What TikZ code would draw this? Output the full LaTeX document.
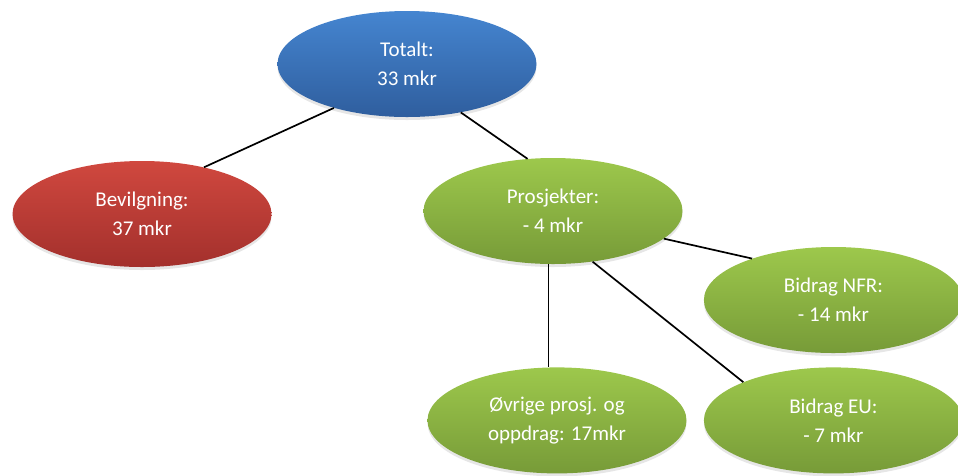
\documentclass[tikz,border=0pt]{standalone}
\usepackage{fontspec}
\setmainfont{Carlito}
\usepackage{tikz}
\usetikzlibrary{shapes.geometric,positioning,shadows}
\definecolor{BlueTop}{HTML}{4585D0}
\definecolor{BlueBot}{HTML}{2F5E9E}
\definecolor{RedTop}{HTML}{D0483F}
\definecolor{RedBot}{HTML}{A3302C}
\definecolor{GreenTop}{HTML}{9DC84C}
\definecolor{GreenBot}{HTML}{779B38}

\begin{document}
\begin{tikzpicture}[x=1pt,y=-1pt,
  oval/.style={ellipse,minimum width=259pt,minimum height=106pt,inner sep=0pt,
               align=center,text=white,font=\fontsize{21}{29}\selectfont,
               drop shadow={shadow xshift=0pt,shadow yshift=-3pt,opacity=0.2}},
  bnode/.style={oval,top color=BlueTop,bottom color=BlueBot},
  rnode/.style={oval,top color=RedTop,bottom color=RedBot},
  gnode/.style={oval,top color=GreenTop,bottom color=GreenBot},
  link/.style={line width=1.7pt,black}]
\useasboundingbox (0,0) rectangle (958,475);
\node[bnode] (tot) at (407,64) {Totalt:\\33 mkr};
\node[rnode] (bev) at (142,214) {Bevilgning:\\37 mkr};
\node[gnode] (pro) at (553,211) {Prosjekter:\\- 4 mkr};
\node[gnode,below=103pt of pro,xshift=4pt] (ovr) {Øvrige prosj. og\\oppdrag: 17mkr};
\node[gnode,right=17pt of ovr] (eu) {Bidrag EU:\\- 7 mkr};
\node[gnode,above=14pt of eu] (nfr) {Bidrag NFR:\\- 14 mkr};
\draw[link] (tot.211) -- (bev.37);
\draw[link] (tot.318) -- (pro.116);
\draw[link] (pro.346) -- (nfr.153);
\draw[link] (pro.265) -- (pro.265 |- ovr.north);
\draw[link] (pro.308) -- (eu.157);
\end{tikzpicture}
\end{document}
